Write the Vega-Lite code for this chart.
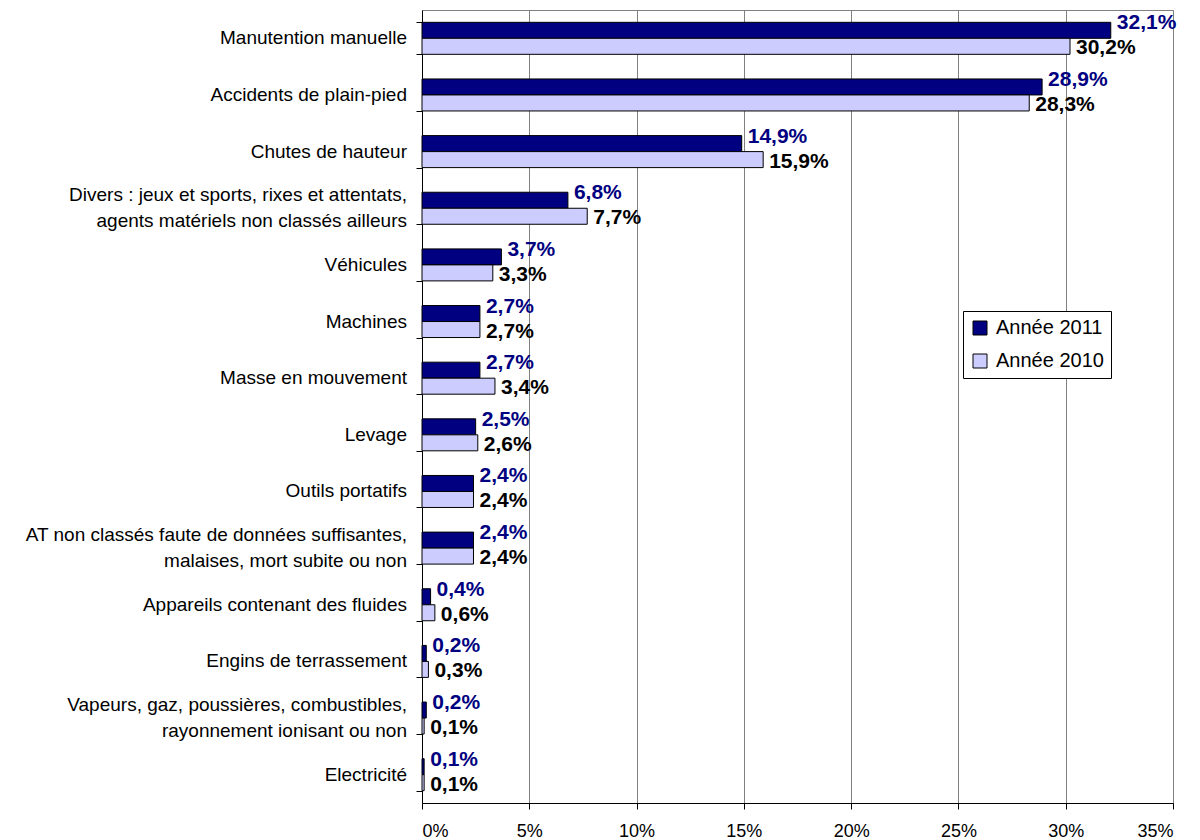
{
  "$schema": "https://vega.github.io/schema/vega-lite/v6.json",
  "width": 751,
  "height": 793,
  "autosize": {"type": "none"},
  "padding": {"left": 422, "top": 10, "right": 27, "bottom": 37},
  "config": {
    "locale": {"number": {"decimal": ",", "thousands": " ", "grouping": [3], "currency": ["", " €"]}},
    "font": "Liberation Sans",
    "view": {"stroke": "#808080", "strokeWidth": 1},
    "background": "white"
  },
  "data": {
    "values": [
      {"cat": "Manutention manuelle", "serie": "Année 2011", "value": 0.321},
      {"cat": "Manutention manuelle", "serie": "Année 2010", "value": 0.302},
      {"cat": "Accidents de plain-pied", "serie": "Année 2011", "value": 0.289},
      {"cat": "Accidents de plain-pied", "serie": "Année 2010", "value": 0.283},
      {"cat": "Chutes de hauteur", "serie": "Année 2011", "value": 0.149},
      {"cat": "Chutes de hauteur", "serie": "Année 2010", "value": 0.159},
      {"cat": "Divers : jeux et sports, rixes et attentats,|agents matériels non classés ailleurs", "serie": "Année 2011", "value": 0.068},
      {"cat": "Divers : jeux et sports, rixes et attentats,|agents matériels non classés ailleurs", "serie": "Année 2010", "value": 0.077},
      {"cat": "Véhicules", "serie": "Année 2011", "value": 0.037},
      {"cat": "Véhicules", "serie": "Année 2010", "value": 0.033},
      {"cat": "Machines", "serie": "Année 2011", "value": 0.027},
      {"cat": "Machines", "serie": "Année 2010", "value": 0.027},
      {"cat": "Masse en mouvement", "serie": "Année 2011", "value": 0.027},
      {"cat": "Masse en mouvement", "serie": "Année 2010", "value": 0.034},
      {"cat": "Levage", "serie": "Année 2011", "value": 0.025},
      {"cat": "Levage", "serie": "Année 2010", "value": 0.026},
      {"cat": "Outils portatifs", "serie": "Année 2011", "value": 0.024},
      {"cat": "Outils portatifs", "serie": "Année 2010", "value": 0.024},
      {"cat": "AT non classés faute de données suffisantes,|malaises, mort subite ou non", "serie": "Année 2011", "value": 0.024},
      {"cat": "AT non classés faute de données suffisantes,|malaises, mort subite ou non", "serie": "Année 2010", "value": 0.024},
      {"cat": "Appareils contenant des fluides", "serie": "Année 2011", "value": 0.004},
      {"cat": "Appareils contenant des fluides", "serie": "Année 2010", "value": 0.006},
      {"cat": "Engins de terrassement", "serie": "Année 2011", "value": 0.002},
      {"cat": "Engins de terrassement", "serie": "Année 2010", "value": 0.003},
      {"cat": "Vapeurs, gaz, poussières, combustibles,|rayonnement ionisant ou non", "serie": "Année 2011", "value": 0.002},
      {"cat": "Vapeurs, gaz, poussières, combustibles,|rayonnement ionisant ou non", "serie": "Année 2010", "value": 0.001},
      {"cat": "Electricité", "serie": "Année 2011", "value": 0.001},
      {"cat": "Electricité", "serie": "Année 2010", "value": 0.001}
    ]
  },
  "encoding": {
    "y": {
      "field": "cat",
      "type": "nominal",
      "sort": null,
      "scale": {"paddingInner": 0.435, "paddingOuter": 0.2175},
      "axis": {
        "title": null,
        "labels": false,
        "tickBand": "extent",
        "tickSize": 6,
        "tickColor": "black",
        "domainColor": "black",
        "grid": false
      }
    },
    "x": {
      "field": "value",
      "type": "quantitative",
      "scale": {"domain": [0, 0.35], "nice": false},
      "axis": {
        "title": null,
        "values": [0, 0.05, 0.1, 0.15, 0.2, 0.25, 0.3, 0.35],
        "format": ".0%",
        "grid": true,
        "gridColor": "#808080",
        "gridOpacity": 1,
        "labelFontSize": 18,
        "labelColor": "black",
        "tickSize": 6,
        "tickColor": "black",
        "domainColor": "black",
        "labelPadding": 13
      }
    }
  },
  "layer": [
    {
      "mark": {"type": "bar", "stroke": "black", "strokeWidth": 1},
      "encoding": {
        "yOffset": {"field": "serie", "sort": ["Année 2011", "Année 2010"], "scale": {"paddingInner": 0, "paddingOuter": 0}},
        "color": {
          "field": "serie",
          "type": "nominal",
          "scale": {"domain": ["Année 2011", "Année 2010"], "range": ["#000080", "#CCCCFF"]},
          "legend": {
            "title": null,
            "orient": "none",
            "legendX": 541,
            "legendY": 301,
            "fillColor": "white",
            "strokeColor": "black",
            "padding": 7,
            "symbolType": "square",
            "symbolSize": 196,
            "symbolStrokeColor": "black",
            "symbolStrokeWidth": 1,
            "labelFontSize": 20,
            "labelColor": "black",
            "rowPadding": 13,
            "labelOffset": 6
          }
        }
      }
    },
    {
      "transform": [{"filter": "datum.serie == 'Année 2011'"}],
      "mark": {"type": "text", "align": "left", "baseline": "middle", "dx": 6, "dy": -7, "fontSize": 21, "fontWeight": "bold", "color": "#000080"},
      "encoding": {
        "yOffset": {"field": "serie", "sort": ["Année 2011", "Année 2010"], "scale": {"paddingInner": 0, "paddingOuter": 0}},
        "text": {"field": "value", "type": "quantitative", "format": ".1%"}
      }
    },
    {
      "transform": [{"filter": "datum.serie == 'Année 2010'"}],
      "mark": {"type": "text", "align": "left", "baseline": "middle", "dx": 6, "dy": 2, "fontSize": 21, "fontWeight": "bold", "color": "black"},
      "encoding": {
        "yOffset": {"field": "serie", "sort": ["Année 2011", "Année 2010"], "scale": {"paddingInner": 0, "paddingOuter": 0}},
        "text": {"field": "value", "type": "quantitative", "format": ".1%"}
      }
    },
    {
      "transform": [{"filter": "datum.serie == 'Année 2011' && indexof(datum.cat, '|') < 0"}],
      "mark": {"type": "text", "align": "right", "baseline": "middle", "dx": -15, "fontSize": 19, "color": "black"},
      "encoding": {
        "x": {"datum": 0, "type": "quantitative"},
        "text": {"field": "cat", "type": "nominal"}
      }
    },
    {
      "transform": [{"filter": "datum.serie == 'Année 2011' && indexof(datum.cat, '|') >= 0"}],
      "mark": {"type": "text", "align": "right", "baseline": "middle", "dx": -15, "dy": -13, "lineBreak": "|", "lineHeight": 26, "fontSize": 19, "color": "black"},
      "encoding": {
        "x": {"datum": 0, "type": "quantitative"},
        "text": {"field": "cat", "type": "nominal"}
      }
    }
  ]
}
